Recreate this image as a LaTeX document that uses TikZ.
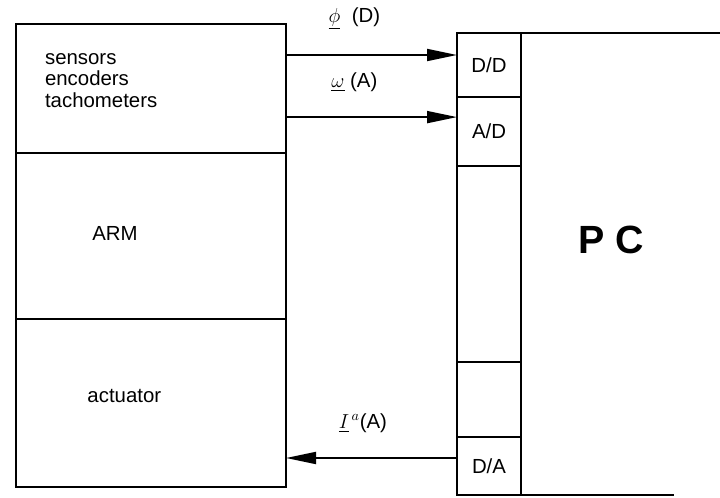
\documentclass[tikz,border=0pt]{standalone}
\usepackage{fontspec}
\setmainfont{Liberation Sans}
\usepackage{amsmath}
\usetikzlibrary{arrows.meta,positioning,calc}

\begin{document}
\begin{tikzpicture}[font=\fontsize{14.5}{15.5}\selectfont,
    part/.style={draw, line width=1.6pt, outer sep=0pt, inner sep=0pt,
              minimum width=6.75cm},
    port/.style={draw, line width=1.6pt, outer sep=0pt, inner sep=0pt,
              minimum width=1.6cm},
    lbl/.style={inner sep=0pt, align=left, anchor=west},
    sig/.style={line width=1.3pt, -{Triangle[length=0.75cm,width=0.3cm]}},
    pctext/.style={font=\fontsize{28}{30}\selectfont\bfseries}]
\useasboundingbox (-0.4,0.6) rectangle (17.6,-11.85);
% robot side
\node[part, minimum height=3.225cm, anchor=north west] (sens) at (0,0) {};
\node[part, minimum height=4.15cm, below=0pt of sens] (arm) {};
\node[part, minimum height=4.2cm, below=0pt of arm] (act) {};
\node[lbl] (sensl) at ($(sens.west)+(0.72,0.2)$) {sensors\\encoders\\tachometers};
\node[lbl] (arml) at ($(arm.west)+(1.9,0.07)$) {ARM};
\node[lbl] (actl) at ($(act.west)+(1.78,0.17)$) {actuator};
% interface column
\node[port, minimum height=1.6cm, right=4.275cm of sens.north east, anchor=north west, yshift=-0.225cm] (dd) {D/D};
\node[port, minimum height=1.725cm, below=0pt of dd] (ad) {A/D};
\node[port, minimum height=4.9cm, below=0pt of ad] (free1) {};
\node[port, minimum height=1.875cm, below=0pt of free1] (free2) {};
\node[port, minimum height=1.45cm, below=0pt of free2] (da) {D/A};
% computer
\node[outer sep=0pt, inner sep=0pt, minimum width=5cm, minimum height=11.55cm,
      anchor=north west] (pc) at (dd.north east) {};
\node[pctext] (pcl) at ($(pc.center)+(-0.25,0.6)$) {P C};
\draw[line width=1.6pt] (pc.north west) -- (pc.north east);
\draw[line width=1.6pt] (pc.south west) -- ($(pc.south west)+(3.825,0)$);
% signals
\coordinate (phiin) at ($(dd.west)+(0,0.25)$);
\coordinate (omin) at ($(ad.west)+(0,0.36)$);
\coordinate (iout) at ($(da.west)+(0,0.2)$);
\draw[sig] (sens.east |- phiin) -- node[pos=0.4, above=0.6cm, inner sep=0pt] (phil) {$\underline{\phi}$~~(D)} (phiin);
\draw[sig] (sens.east |- omin) -- node[pos=0.4, above=0.6cm, inner sep=0pt] (oml) {$\underline{\omega}$~(A)} (omin);
\draw[sig] (iout) -- node[pos=0.55, above=0.6cm, inner sep=0pt] (il) {$\underline{I}^{\,a}$(A)} (act.east |- iout);
\end{tikzpicture}
\end{document}
